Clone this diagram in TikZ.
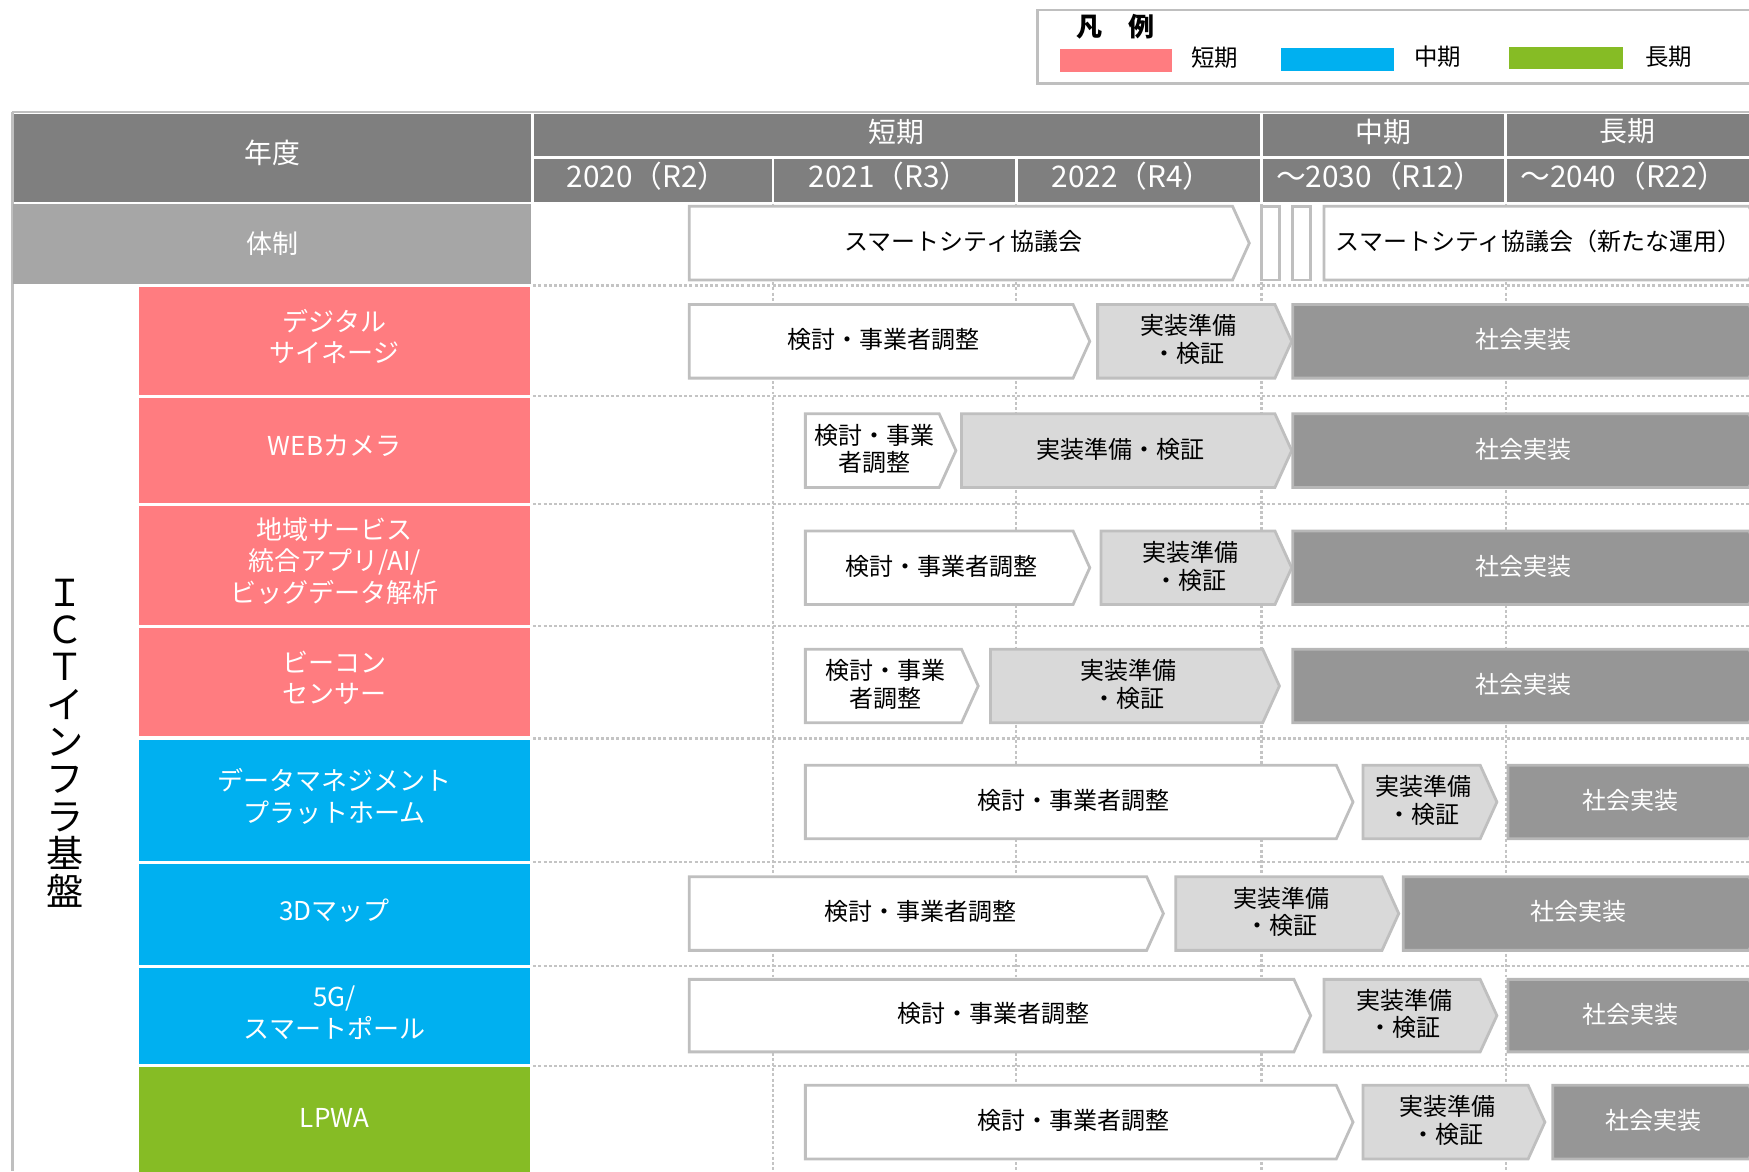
\documentclass[tikz,border=0pt]{standalone}
\usepackage{fontspec}
\setmainfont{Noto Sans CJK JP}
\definecolor{hdr}{HTML}{7F7F7F}
\definecolor{hdrlight}{HTML}{A6A6A6}
\definecolor{pinkc}{HTML}{FF7C80}
\definecolor{bluec}{HTML}{00B0F0}
\definecolor{greenc}{HTML}{86BC25}
\definecolor{bord}{HTML}{BFBFBF}
\definecolor{lgfill}{HTML}{D9D9D9}
\definecolor{dgfill}{HTML}{969696}
\definecolor{gridc}{HTML}{C4C4C4}
\newcommand{\Chev}[7]{%
  \draw[#1] (#2,#4) -- ({#3-15},#4) -- (#3,{(#4+#5)/2}) -- ({#3-15},#5) -- (#2,#5) -- cycle;
  \node[#1 text] (#6) at ({(#2+#3-15)/2+2},{(#4+#5)/2-1.5}) {#7};}
\tikzset{
  stA/.style={draw=bord, line width=1.5pt, fill=white},
  stB/.style={draw=bord, line width=1.5pt, fill=lgfill},
  stC/.style={draw=bord!80!dgfill, line width=1.5pt, fill=dgfill},
  stA text/.style={align=center, inner sep=0pt, text=black, font=\fontsize{12.9}{15}\selectfont},
  stB text/.style={align=center, inner sep=0pt, text=black, font=\fontsize{12.9}{15}\selectfont},
  stC text/.style={align=center, inner sep=0pt, text=white, font=\fontsize{12.9}{15}\selectfont},
  hdrtxt/.style={text=white, inner sep=0pt, font=\fontsize{15}{18}\selectfont},
  yeartxt/.style={text=white, inner sep=0pt, font=\fontsize{16}{18}\selectfont},
  cattxt/.style={text=white, align=center, inner sep=0pt, font=\fontsize{14}{16.8}\selectfont},
  gridline/.style={draw=gridc, line width=1.2pt, dash pattern=on 1.6pt off 1.2pt},
  sepline/.style={draw=white, line width=1.6pt},
  legtxt/.style={inner sep=0pt, text=black, font=\fontsize{12.6}{15}\selectfont},
}
\begin{document}
\begin{tikzpicture}[x=0.6pt,y=-0.6pt]
\useasboundingbox (0,0) rectangle (1568,1050);
\clip (0,0) rectangle (1568,1050);

% ---------- legend ----------
\draw[draw=bord, line width=1.4pt, fill=white] (930,9) rectangle (1580,75);
\node[inner sep=0pt, font=\fontsize{14}{16}\selectfont\bfseries] (legtitle) at (1000,24) {凡　例};
\fill[pinkc] (950,44) rectangle (1051,65);
\node[legtxt] (leg1) at (1089,52) {短期};
\fill[bluec] (1148,43) rectangle (1250,64);
\node[legtxt] (leg2) at (1289,51) {中期};
\fill[greenc] (1353,42) rectangle (1455,62);
\node[legtxt] (leg3) at (1496,51) {長期};

% ---------- header ----------
\fill[hdr] (12,102) rectangle (1568,181);
\draw[draw=bord, line width=1.4pt] (11,100.5) -- (1568,100.5);
\draw[draw=bord, line width=1.4pt] (11,100) -- (11,1050);
\draw[sepline] (477,102) -- (477,182);
\draw[sepline] (477,141) -- (1568,141);
\draw[sepline] (1131,102) -- (1131,182);
\draw[sepline] (1350,102) -- (1350,182);
\draw[sepline] (693,141) -- (693,182);
\draw[sepline] (911,141) -- (911,182);
\node[hdrtxt] (nendo) at (244,137) {年度};
\node[hdrtxt] (tanki) at (804,118) {短期};
\node[hdrtxt] (chuki) at (1240,118) {中期};
\node[hdrtxt] (choki) at (1459,118) {長期};
\node[yeartxt] (y2020) at (580,158) {2020（R2）};
\node[yeartxt] (y2021) at (797,158) {2021（R3）};
\node[yeartxt] (y2022) at (1015,158) {2022（R4）};
\node[yeartxt] (y2030) at (1237,158) {～2030（R12）};
\node[yeartxt] (y2040) at (1456,158) {～2040（R22）};

% 体制 row label
\fill[hdrlight] (12,183) rectangle (476,255);
\node[hdrtxt, font=\fontsize{14}{16}\selectfont] (taisei) at (244,218) {体制};

% ---------- grid ----------
\foreach \yy in {256,355,452,561,662,773,866,956}
  \draw[gridline] (478,\yy) -- (1568,\yy);
\foreach \xx in {693,911,1131,1350}
  \draw[gridline] (\xx,183) -- (\xx,1050);

% ---------- category cells ----------
\fill[pinkc] (125,257) rectangle (475,354);
\fill[pinkc] (125,357) rectangle (475,451);
\fill[pinkc] (125,454) rectangle (475,560);
\fill[pinkc] (125,563) rectangle (475,660);
\fill[bluec] (125,663) rectangle (475,772);
\fill[bluec] (125,775) rectangle (475,865);
\fill[bluec] (125,868) rectangle (475,954);
\fill[greenc] (125,957) rectangle (475,1052);
\node[cattxt] (c1) at (300,302) {デジタル\\サイネージ};
\node[cattxt] (c2) at (300,400) {WEBカメラ};
\node[cattxt] (c3) at (300,503) {地域サービス\\統合アプリ/AI/\\ビッグデータ解析};
\node[cattxt] (c4) at (300,608) {ビーコン\\センサー};
\node[cattxt] (c5) at (300,714) {データマネジメント\\プラットホーム};
\node[cattxt] (c6) at (300,816) {3Dマップ};
\node[cattxt] (c7) at (300,908) {5G/\\スマートポール};
\node[cattxt] (c8) at (300,1002) {LPWA};

\node[align=center, inner sep=0pt, text=black, font=\fontsize{20}{20.1}\selectfont] (ict) at (58,666)
  {Ｉ\\Ｃ\\Ｔ\\イ\\ン\\フ\\ラ\\基\\盤};

% ---------- 体制 row ----------
\Chev{stA}{618}{1120}{185}{251}{kyogi}{スマートシティ協議会}
\draw[stA] (1131,185) rectangle (1147,251);
\draw[stA] (1159,185) rectangle (1175,251);
\Chev{stA}{1187}{1583}{185}{251}{kyogi2}{スマートシティ協議会（新たな運用）}

% ---------- rows ----------
\Chev{stA}{618}{977}{273}{339}{a1}{検討・事業者調整}
\Chev{stB}{984}{1158}{273}{339}{b1}{実装準備\\・検証}
\Chev{stC}{1159}{1583}{273}{339}{d1}{社会実装}

\Chev{stA}{722}{857}{371}{437}{a2}{検討・事業\\者調整}
\Chev{stB}{862}{1158}{371}{437}{b2}{実装準備・検証}
\Chev{stC}{1159}{1583}{371}{437}{d2}{社会実装}

\Chev{stA}{722}{977}{476}{542}{a3}{検討・事業者調整}
\Chev{stB}{987}{1158}{476}{542}{b3}{実装準備\\・検証}
\Chev{stC}{1159}{1583}{476}{542}{d3}{社会実装}

\Chev{stA}{722}{877}{582}{648}{a4}{検討・事業\\者調整}
\Chev{stB}{888}{1147}{582}{648}{b4}{実装準備\\・検証}
\Chev{stC}{1159}{1583}{582}{648}{d4}{社会実装}

\Chev{stA}{722}{1213}{686}{752}{a5}{検討・事業者調整}
\Chev{stB}{1222}{1342}{686}{752}{b5}{実装準備\\・検証}
\Chev{stC}{1352}{1583}{686}{752}{d5}{社会実装}

\Chev{stA}{618}{1043}{786}{852}{a6}{検討・事業者調整}
\Chev{stB}{1054}{1254}{786}{852}{b6}{実装準備\\・検証}
\Chev{stC}{1258}{1583}{786}{852}{d6}{社会実装}

\Chev{stA}{618}{1175}{878}{943}{a7}{検討・事業者調整}
\Chev{stB}{1187}{1342}{878}{943}{b7}{実装準備\\・検証}
\Chev{stC}{1352}{1583}{878}{943}{d7}{社会実装}

\Chev{stA}{722}{1213}{973}{1039}{a8}{検討・事業者調整}
\Chev{stB}{1222}{1385}{973}{1039}{b8}{実装準備\\・検証}
\Chev{stC}{1392}{1583}{973}{1039}{d8}{社会実装}
\end{tikzpicture}
\end{document}
